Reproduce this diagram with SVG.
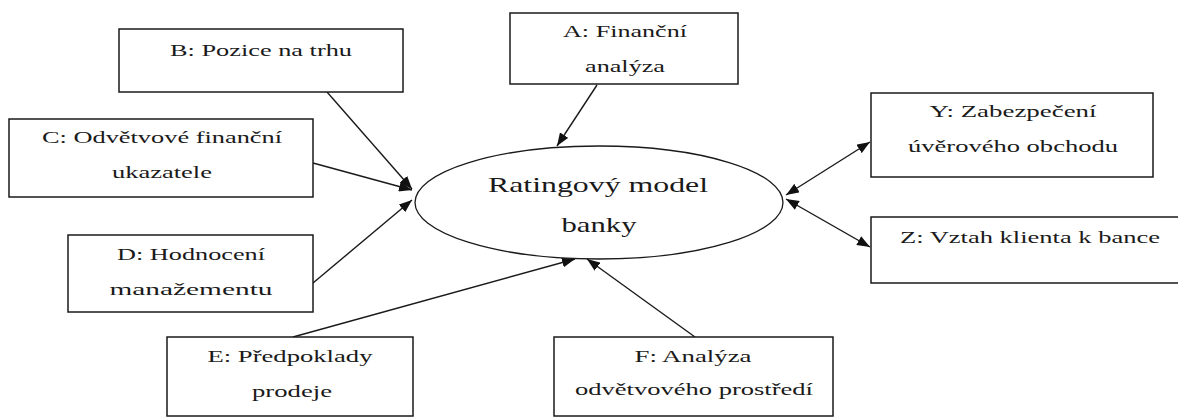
<svg xmlns="http://www.w3.org/2000/svg" width="1178" height="417" viewBox="0 0 1178 417">
<style>
.box{fill:#fff;stroke:#1a1a1a;stroke-width:1.5}
.t{font-family:"Liberation Serif","Times New Roman",serif;font-size:17px;fill:#1a1a1a;text-anchor:middle}
.big{font-size:22px}
.c{fill:none;stroke:#1a1a1a;stroke-width:1.4}
</style>
<defs>
<marker id="ah" viewBox="0 0 13 10" refX="13" refY="5" markerWidth="13" markerHeight="10" markerUnits="userSpaceOnUse" orient="auto-start-reverse">
<path d="M0,0 L13,5 L0,10 Z" fill="#111"/>
</marker>
</defs>
<rect width="1178" height="417" fill="#fff"/>
<g id="connectors">
<path class="c" d="M597,85 L557,146" marker-end="url(#ah)"/>
<path class="c" d="M327,92 L412,189" marker-end="url(#ah)"/>
<path class="c" d="M313,163 L412,190" marker-end="url(#ah)"/>
<path class="c" d="M313,283 L412,200" marker-end="url(#ah)"/>
<path class="c" d="M293,337 L575,259" marker-end="url(#ah)"/>
<path class="c" d="M695,337 L587,259" marker-end="url(#ah)"/>
<path class="c" d="M786,195 L870,142" marker-start="url(#ah)" marker-end="url(#ah)"/>
<path class="c" d="M786,199 L870,247" marker-start="url(#ah)" marker-end="url(#ah)"/>
</g>
<g id="center">
<ellipse cx="599" cy="202.5" rx="184" ry="56.5" fill="none" stroke="#1a1a1a" stroke-width="1.3"/>
<text class="t big" x="598" y="192" textLength="220" lengthAdjust="spacingAndGlyphs">Ratingový model</text>
<text class="t big" x="599" y="232" textLength="75" lengthAdjust="spacingAndGlyphs">banky</text>
</g>
<g id="nodeA">
<rect class="box" x="510" y="13" width="228" height="71"/>
<text class="t" x="625" y="37" textLength="124" lengthAdjust="spacingAndGlyphs">A: Finanční</text>
<text class="t" x="625" y="72" textLength="80" lengthAdjust="spacingAndGlyphs">analýza</text>
</g>
<g id="nodeB">
<rect class="box" x="119" y="29" width="284" height="63"/>
<text class="t" x="261" y="56" textLength="182" lengthAdjust="spacingAndGlyphs">B: Pozice na trhu</text>
</g>
<g id="nodeC">
<rect class="box" x="9" y="119" width="304" height="78"/>
<text class="t" x="162" y="143" textLength="240" lengthAdjust="spacingAndGlyphs">C: Odvětvové finanční</text>
<text class="t" x="162" y="178" textLength="100" lengthAdjust="spacingAndGlyphs">ukazatele</text>
</g>
<g id="nodeD">
<rect class="box" x="68" y="235" width="245" height="77"/>
<text class="t" x="191" y="260" textLength="148" lengthAdjust="spacingAndGlyphs">D: Hodnocení</text>
<text class="t" x="191" y="295" textLength="163" lengthAdjust="spacingAndGlyphs">manažementu</text>
</g>
<g id="nodeE">
<rect class="box" x="167" y="337" width="246" height="79"/>
<text class="t" x="290" y="362" textLength="165" lengthAdjust="spacingAndGlyphs">E: Předpoklady</text>
<text class="t" x="292" y="397" textLength="80" lengthAdjust="spacingAndGlyphs">prodeje</text>
</g>
<g id="nodeF">
<rect class="box" x="554" y="337" width="279" height="79"/>
<text class="t" x="693" y="362" textLength="117" lengthAdjust="spacingAndGlyphs">F: Analýza</text>
<text class="t" x="694" y="395" textLength="238" lengthAdjust="spacingAndGlyphs">odvětvového prostředí</text>
</g>
<g id="nodeY">
<rect class="box" x="871" y="93" width="282" height="84"/>
<text class="t" x="1013" y="117" textLength="167" lengthAdjust="spacingAndGlyphs">Y: Zabezpečení</text>
<text class="t" x="1013" y="152" textLength="210" lengthAdjust="spacingAndGlyphs">úvěrového obchodu</text>
</g>
<g id="nodeZ">
<rect class="box" x="871" y="217" width="320" height="66"/>
<text class="t" x="1030" y="243" textLength="260" lengthAdjust="spacingAndGlyphs">Z: Vztah klienta k bance</text>
</g>
</svg>
